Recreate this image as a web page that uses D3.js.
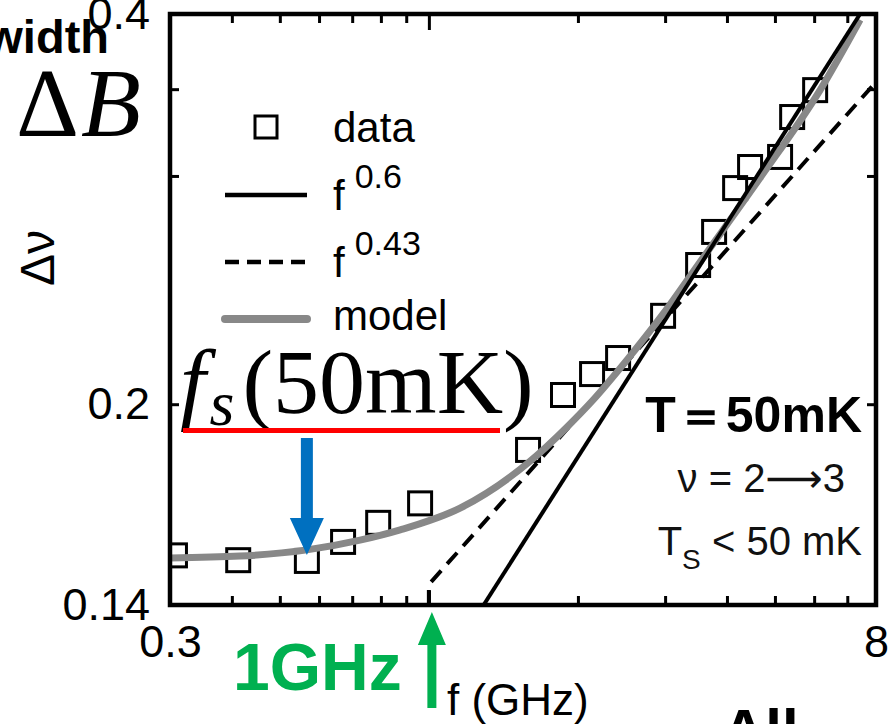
<!DOCTYPE html>
<html><head><meta charset="utf-8">
<script src="https://cdn.jsdelivr.net/npm/d3@7"></script>
<style>html,body{margin:0;padding:0;background:#fff;}svg{display:block;}</style>
</head><body>
<script>
// ---- data ----
const dataFreq  = [0.307,0.412,0.567,0.671,0.790,0.960,1.586,1.866,2.136,2.411,2.972,3.498,3.768,4.155,4.454,5.121,5.417,6.028];
const dataWidth = [0.1529,0.1516,0.1514,0.1566,0.1620,0.1677,0.1844,0.2033,0.2110,0.2171,0.2340,0.2561,0.2716,0.2936,0.3048,0.3103,0.3331,0.3494];
const f06Freq  = [1.29, 7.43];
const f06Width = [0.140, 0.400];
const f043Freq  = [1.0, 1.0, 8.0];
const f043Width = [0.140, 0.1452, 0.3545];
const modelFreq  = [0.3,0.4155,0.567,0.726,0.875,1.156,1.586,1.902,2.146,2.513,2.972,3.530,4.668,6.168,7.43];
const modelWidth = [0.1522,0.1527,0.1544,0.1571,0.1600,0.1663,0.1802,0.1921,0.2015,0.2164,0.2348,0.2575,0.2990,0.3494,0.3959];
const xTicks = [0.3,0.4,0.5,0.6,0.7,0.8,0.9,1,2,3,4,5,6,7,8];
const xTickLabels = {0.3:"0.3", 8:"8"};
const yTicks = [0.14,0.2,0.3,0.35,0.4];
const yTickLabels = {0.14:"0.14", 0.2:"0.2", 0.4:"0.4"};
const fsFreq = 0.567;      // f_s(50mK) marker
const oneGHz = 1;

const W = 892, H = 724;
const L = 170, R = 876, T = 14, B = 605;
const svg = d3.select("body").append("svg").attr("width", W).attr("height", H)
  .style("font-family", "'Liberation Sans', Arial, sans-serif");
svg.append("rect").attr("width", W).attr("height", H).attr("fill", "#fff");

const x = d3.scaleLog().domain([0.3, 8]).range([L, R]);
const y = d3.scaleLog().domain([0.14, 0.4]).range([B, T]);

svg.append("clipPath").attr("id", "plot").append("rect")
  .attr("x", L).attr("y", T).attr("width", R - L).attr("height", B - T);

const g = svg.append("g").attr("clip-path", "url(#plot)");

// data squares
g.selectAll("rect.sq").data(dataFreq.map((f, i) => [f, dataWidth[i]])).join("rect")
  .attr("class", "sq")
  .attr("x", d => x(d[0]) - 11.5).attr("y", d => y(d[1]) - 11.5)
  .attr("width", 23).attr("height", 23)
  .attr("fill", "none").attr("stroke", "#000").attr("stroke-width", 3);

const line = d3.line().x(d => x(d[0])).y(d => y(d[1]));
// f^0.43 dashed
g.append("path").datum(f043Freq.map((f, i) => [f, f043Width[i]]))
  .attr("d", line).attr("fill", "none").attr("stroke", "#000")
  .attr("stroke-width", 4).attr("stroke-dasharray", "15,9");
// model grey
g.append("path").datum(modelFreq.map((f, i) => [f, modelWidth[i]]))
  .attr("d", d3.line().x(d => x(d[0])).y(d => y(d[1])).curve(d3.curveMonotoneX))
  .attr("fill", "none").attr("stroke", "#888").attr("stroke-width", 7);
// f^0.6 solid
g.append("path").datum(f06Freq.map((f, i) => [f, f06Width[i]]))
  .attr("d", line).attr("fill", "none").attr("stroke", "#000")
  .attr("stroke-width", 4);

// axes (inward ticks)
function styleAxis(sel) {
  sel.select(".domain").remove();
  sel.selectAll("line").attr("stroke", "#000").attr("stroke-width", 3);
  sel.selectAll("text").attr("fill", "#000").style("font-size", "45px")
    .style("font-family", "'Liberation Sans', Arial, sans-serif");
}
const fmtX = v => xTickLabels[v] || "";
const fmtY = v => yTickLabels[v] || "";
svg.append("g").attr("transform", `translate(0,${B})`)
  .call(d3.axisBottom(x).tickValues(xTicks).tickSize(-9).tickPadding(20).tickFormat(fmtX)).call(styleAxis)
  .selectAll(".tick line").attr("y2", d => d === 1 ? -14 : -9);
svg.append("g").attr("transform", `translate(0,${T})`)
  .call(d3.axisTop(x).tickValues(xTicks).tickSize(-9).tickFormat("")).call(styleAxis)
  .selectAll(".tick line").attr("y2", d => d === 1 ? 16 : 9);
svg.append("g").attr("transform", `translate(${L},0)`)
  .call(d3.axisLeft(y).tickValues(yTicks).tickSize(-9).tickPadding(20).tickFormat(fmtY)).call(styleAxis);
svg.append("g").attr("transform", `translate(${R},0)`)
  .call(d3.axisRight(y).tickValues(yTicks).tickSize(-9).tickFormat("")).call(styleAxis);

// frame
svg.append("rect").attr("x", L).attr("y", T).attr("width", R - L).attr("height", B - T)
  .attr("fill", "none").attr("stroke", "#000").attr("stroke-width", 4.5);

// legend
const lg = svg.append("g");
lg.append("rect").attr("x", 255).attr("y", 116).attr("width", 22).attr("height", 22)
  .attr("fill", "none").attr("stroke", "#000").attr("stroke-width", 3);
lg.append("line").attr("x1", 225).attr("x2", 307).attr("y1", 195).attr("y2", 195)
  .attr("stroke", "#000").attr("stroke-width", 4.5);
lg.append("line").attr("x1", 225).attr("x2", 307).attr("y1", 262).attr("y2", 262)
  .attr("stroke", "#000").attr("stroke-width", 4.5).attr("stroke-dasharray", "14,8");
lg.append("line").attr("x1", 225).attr("x2", 307).attr("y1", 319).attr("y2", 319)
  .attr("stroke", "#888").attr("stroke-width", 8).attr("stroke-linecap", "round");
const lt = (xx, yy, s) => lg.append("text").attr("x", xx).attr("y", yy).style("font-size", "42px").text(s);
lt(333, 142, "data");
const t1 = lg.append("text").attr("x", 333).attr("y", 210).style("font-size", "42px");
t1.append("tspan").text("f");
t1.append("tspan").attr("dx", 10).attr("dy", -22).style("font-size", "34px").text("0.6");
const t2 = lg.append("text").attr("x", 333).attr("y", 277).style("font-size", "42px");
t2.append("tspan").text("f");
t2.append("tspan").attr("dx", 10).attr("dy", -22).style("font-size", "34px").text("0.43");
lt(333, 330, "model");

// axis titles
svg.append("text").attr("transform", "translate(54,258) rotate(-90)").attr("text-anchor", "middle")
  .style("font-size", "48px").text("Δν");
svg.append("text").attr("x", 447).attr("y", 715).style("font-size", "44px").text("f (GHz)");

// top-left annotations
svg.append("text").attr("x", 109).attr("y", 53).attr("text-anchor", "end")
  .style("font-size", "47px").style("font-weight", "bold").text("width");
const db = svg.append("text").attr("x", 16).attr("y", 136)
  .style("font-family", "'Liberation Serif', 'Times New Roman', serif").style("font-size", "98px");
db.append("tspan").text("Δ");
db.append("tspan").attr("dx", 2).style("font-style", "italic").text("B");

// f_s(50mK)
const fs = svg.append("text").attr("x", 180).attr("y", 413)
  .style("font-family", "'Liberation Serif', 'Times New Roman', serif").style("font-size", "92px");
fs.append("tspan").style("font-style", "italic").text("f");
fs.append("tspan").style("font-style", "italic").style("font-size", "64px").attr("dx", 4).attr("dy", 12).text("s");
fs.append("tspan").attr("dy", -12).attr("dx", 8).text("(50mK)");
svg.append("line").attr("x1", 183).attr("x2", 500).attr("y1", 430.5).attr("y2", 430.5)
  .attr("stroke", "#ff0000").attr("stroke-width", 5);

// blue arrow down to f_s
{
  const ax = x(fsFreq);
  const p = d3.path();
  p.moveTo(ax - 6, 438); p.lineTo(ax + 6, 438); p.lineTo(ax + 6, 518); p.lineTo(ax + 17, 518);
  p.lineTo(ax, 555); p.lineTo(ax - 17, 518); p.lineTo(ax - 6, 518); p.closePath();
  svg.append("path").attr("d", p.toString()).attr("fill", "#0070c0");
}
// green arrow up to 1 GHz
{
  const ax = x(oneGHz) + 3;
  const p = d3.path();
  p.moveTo(ax - 4.5, 708); p.lineTo(ax + 4.5, 708); p.lineTo(ax + 4.5, 645); p.lineTo(ax + 14, 645);
  p.lineTo(ax, 612); p.lineTo(ax - 14, 645); p.lineTo(ax - 4.5, 645); p.closePath();
  svg.append("path").attr("d", p.toString()).attr("fill", "#00b050");
}
svg.append("text").attr("x", 233).attr("y", 690).attr("fill", "#00b050")
  .style("font-size", "66px").style("font-weight", "bold").text("1GHz");

// right annotations
svg.append("text").attr("x", 862).attr("y", 432).attr("text-anchor", "end")
  .style("font-size", "50px").style("font-weight", "bold").text("T＝50mK");
const nu = svg.append("text").attr("x", 845).attr("y", 492).attr("text-anchor", "end")
  .style("font-size", "40px").attr("fill", "#111");
nu.append("tspan").text("ν = 2");
nu.append("tspan").style("font-family", "'DejaVu Sans', sans-serif").text("⟶");
nu.append("tspan").text("3");
const ts = svg.append("text").attr("x", 862).attr("y", 555).attr("text-anchor", "end")
  .style("font-size", "40px").attr("fill", "#111");
ts.append("tspan").text("T");
ts.append("tspan").attr("dy", 14).style("font-size", "28px").text("S");
ts.append("tspan").attr("dy", -14).text(" < 50 mK");

// cut-off text at bottom
svg.append("text").attr("x", 722).attr("y", 751).style("font-size", "60px").style("font-weight", "bold").text("All");
</script>
</body></html>
